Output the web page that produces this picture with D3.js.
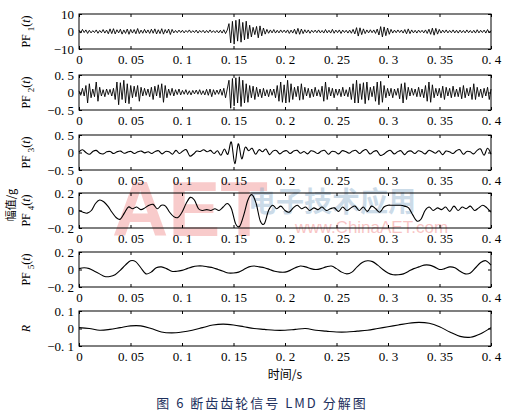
<!DOCTYPE html>
<html><head><meta charset="utf-8">
<script src="https://cdn.jsdelivr.net/npm/d3@7"></script>
<style>body{margin:0;background:#fff}svg{display:block}</style>
</head><body>
<svg id="c" width="522" height="417"></svg>
<script>
const xTicks=[0,0.05,0.1,0.15,0.2,0.25,0.3,0.35,0.4];
const xTickLabels=["0","0. 05","0. 1","0. 15","0. 2","0. 25","0. 3","0. 35","0. 4"];
const panelNames=["1","2","3","4","5","R"];
const yDomains=[[-10,10],[-0.5,0.5],[-0.5,0.5],[-0.2,0.2],[-0.2,0.2],[-0.1,0.1]];
const yTickLabels=[["−10","0","10"],["−0. 5","0","0. 5"],["−0. 5","0","0. 5"],["−0. 2","0","0. 2"],["−0. 2","0","0. 2"],["−0. 1","0","0. 1"]];
const pf1=[0.8,-0.9,1.2,-0.6,0.9,-1.1,0.7,-0.8,0.5,-0.6,0.9,-1.0,0.6,-0.7,1.1,-0.9,0.8,-1.3,1.5,-1.2,
1.6,-1.4,1.0,-0.8,1.3,-1.5,0.9,-1.1,1.4,-1.6,1.2,-0.9,1.1,-1.3,1.7,-1.2,0.8,-1.0,1.2,-0.9,
0.9,-1.1,1.3,-1.0,1.5,-1.4,1.0,-1.2,1.6,-1.5,1.1,-0.9,1.4,-1.7,1.2,-0.8,0.6,-0.7,0.8,-0.6,
0.7,-0.8,0.6,-0.5,0.9,-0.7,0.5,-0.6,0.8,-0.9,0.6,-0.5,0.7,-0.8,0.6,-0.7,0.9,-0.6,0.5,-0.7,
0.6,-0.8,0.7,-0.9,1.0,-1.2,0.8,4.5,-6.5,5.8,-7.2,6.4,-5.5,7.0,-6.1,5.2,-4.8,5.9,-4.2,3.6,
-3.1,2.4,-1.8,2.9,-3.6,3.2,-2.5,2.0,-1.5,1.2,-1.0,0.9,-0.8,1.1,-0.9,0.7,-0.8,0.9,-0.6,0.8,
-0.7,0.9,-1.1,0.8,-0.9,1.3,-1.5,1.8,-1.6,1.4,-1.2,1.0,-0.8,0.9,-1.0,0.7,-0.6,0.8,-0.7,0.9,
-0.8,0.6,-0.9,1.1,-0.8,0.7,-0.9,1.2,-1.0,0.8,-0.7,0.9,-1.1,0.8,-0.6,0.7,-0.9,0.8,-1.0,1.2,
-1.4,2.2,-2.6,2.1,-1.8,1.5,-1.2,0.9,-0.8,1.0,-0.7,0.9,-1.1,1.4,-2.0,2.8,-3.1,2.6,-2.4,2.0,
-1.6,1.2,-0.9,0.8,-0.7,0.9,-0.6,0.8,-0.9,1.1,-1.3,1.5,-1.2,0.9,-0.8,0.7,-0.9,0.8,-0.6,0.7,
-0.8,0.9,-1.1,1.3,-1.6,1.9,-2.1,1.8,-1.5,1.2,-0.9,0.8,-0.7,0.9,-0.8,0.6,-0.7,0.9,-0.8,0.7,
-0.9,0.8,-0.7,0.6,-0.8,0.9,-0.7,0.6,-0.8,0.7,-0.9,1.0,-0.8,0.7,-0.6,0.8,-0.9,1.1,-0.8,0.5];
const pf2=[0.05,-0.08,0.12,-0.1,0.2,-0.3,0.25,-0.15,0.1,-0.12,0.3,-0.25,0.15,-0.1,0.08,-0.12,0.1,-0.06,0.09,-0.1,
0.12,-0.2,0.3,-0.35,0.28,-0.2,0.35,-0.3,0.25,-0.32,0.2,-0.15,0.18,-0.12,0.2,-0.25,0.15,-0.1,0.12,-0.08,
0.1,-0.12,0.15,-0.2,0.18,-0.1,0.22,-0.15,0.25,-0.28,0.2,-0.15,0.1,-0.08,0.12,-0.1,0.08,-0.06,0.1,-0.07,
0.06,-0.05,0.08,-0.06,0.05,-0.07,0.06,-0.04,0.07,-0.05,0.08,-0.06,0.05,-0.07,0.09,-0.08,0.1,-0.12,0.08,-0.06,
0.07,-0.05,0.1,-0.08,0.12,-0.15,0.1,0.35,-0.45,0.4,-0.38,0.42,-0.3,0.45,-0.4,0.35,-0.3,0.25,-0.28,0.2,
-0.15,0.18,-0.2,0.15,-0.12,0.1,-0.15,0.12,-0.1,0.08,-0.12,0.1,-0.08,0.1,-0.15,0.2,-0.25,0.3,-0.28,0.22,
-0.3,0.35,-0.28,0.25,-0.2,0.15,-0.12,0.18,-0.22,0.25,-0.2,0.15,-0.1,0.12,-0.15,0.1,-0.12,0.15,-0.1,0.08,
-0.12,0.18,-0.25,0.3,-0.2,0.15,-0.1,0.12,-0.15,0.1,-0.08,0.1,-0.12,0.15,-0.1,0.08,-0.12,0.15,-0.2,0.25,
-0.3,0.35,-0.3,0.25,-0.2,0.28,-0.32,0.3,-0.22,0.15,-0.12,0.18,-0.25,0.3,-0.35,0.32,-0.28,0.2,-0.15,0.12,
-0.1,0.12,-0.15,0.1,-0.08,0.12,-0.18,0.25,-0.3,0.28,-0.2,0.15,-0.1,0.12,-0.08,0.1,-0.12,0.15,-0.12,0.1,
-0.15,0.2,-0.25,0.3,-0.28,0.22,-0.15,0.12,-0.1,0.12,-0.15,0.18,-0.2,0.15,-0.1,0.12,-0.15,0.18,-0.12,0.1,
-0.12,0.15,-0.18,0.2,-0.15,0.12,-0.1,0.15,-0.2,0.25,-0.2,0.15,-0.12,0.1,-0.15,0.12,-0.1,0.15,-0.2,0.1];
const pf3=[0.02,0.08,0.0,-0.05,0.03,0.06,-0.02,-0.04,0.02,0.03,-0.03,0.02,0.04,-0.02,0.01,0.03,-0.03,0.02,0.04,-0.01,
0.02,-0.03,0.03,0.05,-0.04,0.03,0.02,-0.05,0.06,-0.03,0.04,0.08,-0.1,-0.05,0.04,0.03,0.08,0.02,0.06,-0.03,
0.05,-0.08,0.1,-0.05,0.3,-0.32,0.25,-0.18,0.15,0.05,0.12,-0.05,0.08,0.02,0.1,-0.06,0.04,0.06,-0.04,0.03,
0.05,-0.03,0.04,0.06,-0.02,0.03,-0.04,0.05,0.02,-0.03,0.04,0.06,-0.05,0.03,0.02,-0.04,0.05,0.03,-0.02,0.04,
0.06,-0.03,0.05,0.08,-0.04,0.02,0.05,-0.08,-0.05,0.03,0.06,-0.04,0.02,0.05,-0.06,0.03,0.04,-0.03,0.05,0.02,
-0.04,0.06,0.03,-0.02,0.05,-0.06,0.04,0.02,-0.03,0.05,0.08,-0.05,0.03,0.02,-0.04,0.06,0.1,-0.08,0.12,-0.05];
const pf4=[0,-0.02,-0.03,0.0,0.08,0.12,0.1,0.05,-0.02,-0.08,-0.1,-0.03,0.04,0.02,0.04,0.01,0.03,0.06,0.07,0.02,
0.06,0.05,-0.02,-0.07,-0.08,-0.02,0.08,0.15,0.12,0.02,0.0,0.01,0.0,0.02,0.0,0.04,0.08,0.02,-0.15,-0.18,
-0.05,0.12,0.18,0.08,-0.12,-0.15,0.0,0.06,0.02,0.05,0.0,-0.02,0.03,0.06,0.02,0.04,0.0,0.03,0.01,0.04,
0.0,0.02,0.03,-0.01,0.04,0.0,0.03,0.05,0.0,0.04,-0.01,0.05,0.02,-0.02,0.04,0.06,0.06,0.06,0.06,0.05,
0.03,-0.05,-0.12,-0.1,0.0,0.04,0.0,0.03,0.01,0.04,-0.01,0.05,0.0,0.04,0.02,0.05,0.0,0.03,0.06,0.03,-0.02];
const pf5=[0.01,0.02,0.01,-0.02,-0.05,-0.08,-0.08,-0.06,-0.01,0.05,0.1,0.09,0.02,-0.05,-0.03,0.02,0.03,0.01,-0.02,-0.02,
-0.01,0.01,0.03,0.04,0.04,0.03,0.02,0.0,-0.02,-0.04,-0.04,-0.03,0.0,0.03,0.04,0.03,0.02,0.0,-0.02,-0.03,
-0.03,-0.01,0.02,0.04,0.03,0.01,0.0,0.01,0.03,0.04,0.01,-0.03,-0.05,-0.03,0.03,0.08,0.1,0.09,0.05,0.0,
-0.04,-0.06,-0.06,-0.05,-0.02,0.01,0.03,0.05,0.05,0.03,0.0,0.01,0.03,0.02,-0.02,-0.05,-0.04,0.02,0.08,0.1,0.05];
const residual=[0.005,0.0,-0.01,-0.005,0.005,0.015,0.015,0.0,-0.02,-0.025,-0.02,-0.01,0.005,0.02,0.025,0.02,0.01,0.0,-0.005,-0.01,
-0.01,-0.005,0.0,-0.01,-0.015,-0.02,-0.02,-0.015,-0.01,0.0,0.01,0.02,0.03,0.035,0.03,0.01,-0.02,-0.045,-0.05,-0.03,0.005];
const series=[pf1,pf2,pf3,pf4,pf5,residual];
const curves=[d3.curveLinear,d3.curveLinear,d3.curveCardinal,d3.curveCardinal,d3.curveCardinal,d3.curveCardinal];

const svg=d3.select("#c");
const font="'Liberation Serif','DejaVu Serif',serif";
const L=79,R=491;
const tops=[14,75,135,193,252,311], H=35;
const x=d3.scaleLinear().domain([0,0.4]).range([L,R]);

// watermark (faint, behind the chart)
const wm=svg.append("g").attr("pointer-events","none");
wm.append("text").attr("x",112).attr("y",236).attr("font-family","'Liberation Sans',sans-serif").attr("font-weight","bold")
  .attr("font-size",78).attr("fill","#f08080").attr("opacity",0.4).text("AET");
wm.append("text").attr("x",295).attr("y",233).attr("font-family","'Liberation Sans',sans-serif")
  .attr("font-size",17).attr("fill","#f08080").attr("opacity",0.45).text("www.ChinaAET.com");
wm.append("text").attr("x",248).attr("y",212).attr("font-family","'Noto Sans CJK SC'").attr("font-weight","bold")
  .attr("font-size",28).attr("fill","#7fa6c8").attr("opacity",0.4).text("电子技术应用");

series.forEach((vals,k)=>{
  const top=tops[k];
  const y=d3.scaleLinear().domain(yDomains[k]).range([top+H,top]);
  const g=svg.append("g");
  const n=vals.length;
  const line=d3.line().x((d,i)=>x(i/(n-1)*0.4)).y(d=>y(d)).curve(curves[k]);
  g.append("path").datum(vals).attr("d",line).attr("fill","none").attr("stroke","#000").attr("stroke-width",k<2?0.9:1.1);
  const xa=d3.axisBottom(x).tickValues(xTicks).tickFormat((d,i)=>xTickLabels[i]).tickSizeInner(-3).tickSizeOuter(0).tickPadding(6);
  const xaT=d3.axisTop(x).tickValues(xTicks).tickFormat("").tickSizeInner(-3).tickSizeOuter(0);
  const yv=[yDomains[k][0],0,yDomains[k][1]];
  const ya=d3.axisLeft(y).tickValues(yv).tickFormat((d,i)=>yTickLabels[k][i]).tickSizeInner(-3).tickSizeOuter(0).tickPadding(5);
  const yaR=d3.axisRight(y).tickValues(yv).tickFormat("").tickSizeInner(-3).tickSizeOuter(0);
  [[xa,`translate(0,${top+H})`],[xaT,`translate(0,${top})`],[ya,`translate(${L},0)`],[yaR,`translate(${R},0)`]].forEach(([a,t])=>{
    const ag=g.append("g").attr("transform",t).call(a);
    ag.select(".domain").remove();
    ag.selectAll("text").attr("font-family",font).attr("font-size",13).attr("fill","#000");
    ag.selectAll("line").attr("stroke","#000");
  });
  g.append("rect").attr("x",L).attr("y",top).attr("width",R-L).attr("height",H).attr("fill","none").attr("stroke","#000").attr("stroke-width",1);
  const lab=g.append("text").attr("transform",`translate(30,${top+H/2}) rotate(-90)`).attr("text-anchor","middle")
    .attr("font-family",font).attr("font-size",12);
  if(panelNames[k]==="R"){ lab.attr("font-style","italic").text("R"); }
  else{
    lab.append("tspan").text("PF ");
    lab.append("tspan").attr("font-size",9).attr("dy",4).text(panelNames[k]);
    lab.append("tspan").attr("dy",-4).text("(");
    lab.append("tspan").attr("font-style","italic").text("t");
    lab.append("tspan").text(")");
  }
});
svg.append("text").attr("transform","translate(15,205) rotate(-90)").attr("text-anchor","middle")
  .attr("font-family","'Noto Sans CJK SC'").attr("font-size",11).text("幅值/g");
svg.append("text").attr("x",285).attr("y",379).attr("text-anchor","middle")
  .attr("font-family","'Noto Sans CJK SC'").attr("font-size",12).text("时间/s");
svg.append("text").attr("x",262).attr("y",408).attr("text-anchor","middle").attr("fill","#1c2f5c")
  .attr("font-family","'Noto Sans CJK SC'").attr("font-size",13).attr("letter-spacing",2).text("图 6  断齿齿轮信号 LMD 分解图");
</script>
</body></html>
